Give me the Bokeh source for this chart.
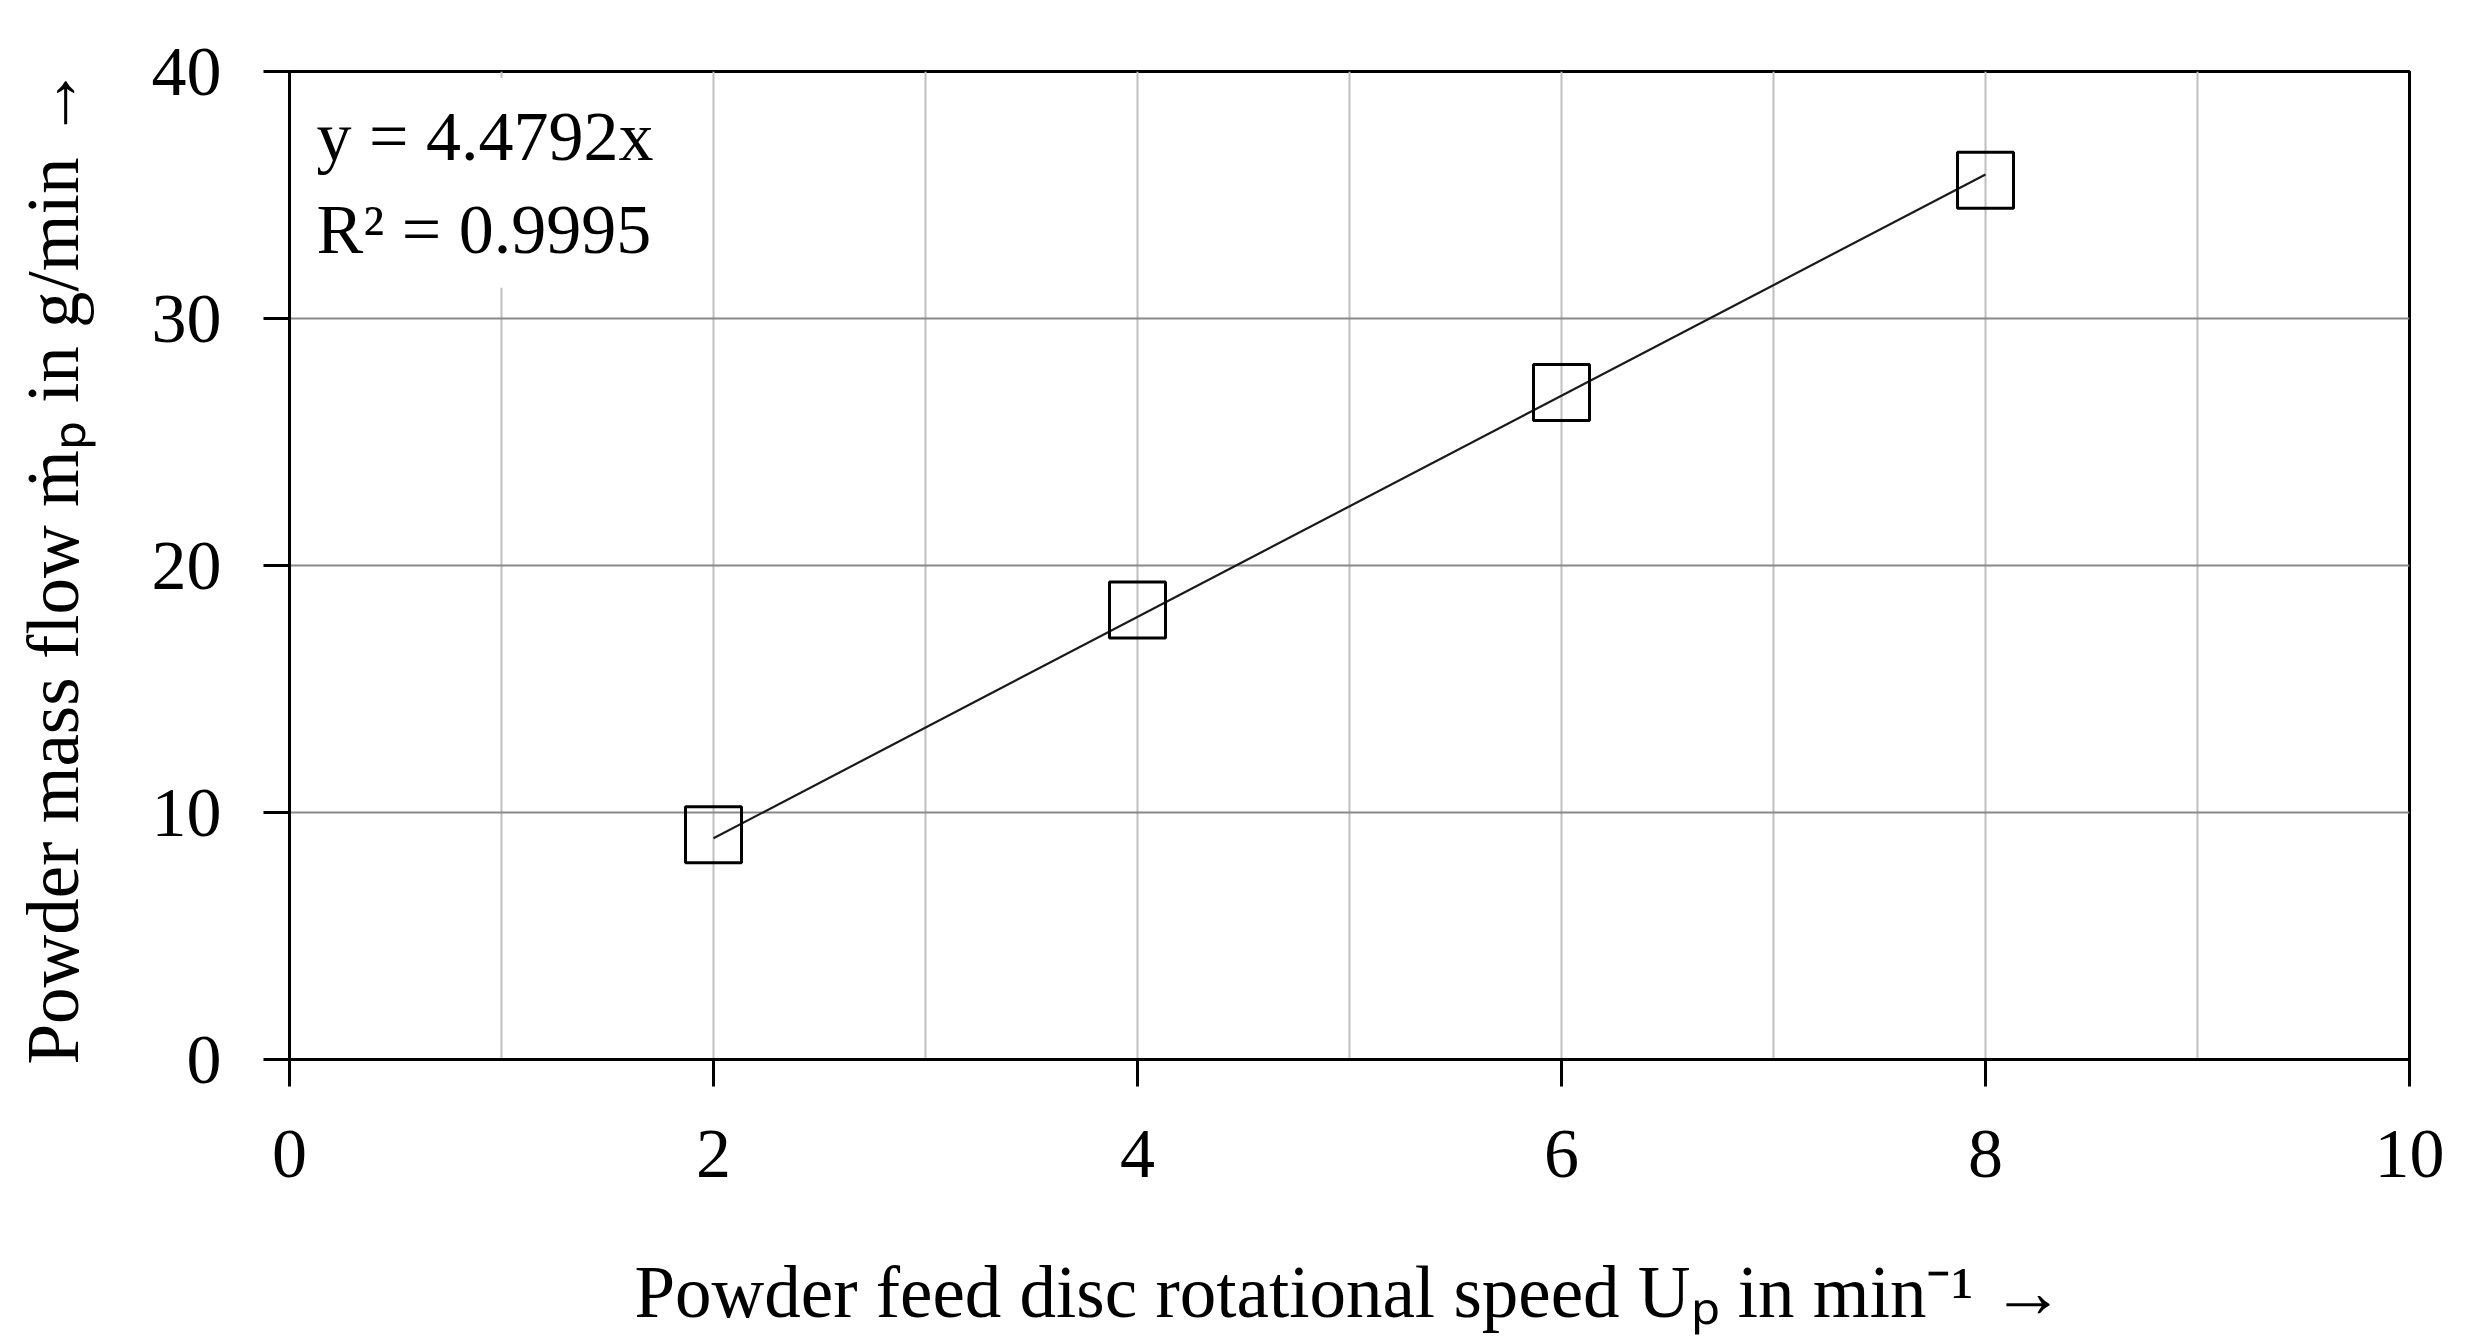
from bokeh.plotting import figure
from bokeh.models import Range1d, SingleIntervalTicker, FixedTicker, Label
from bokeh.embed import file_html
from bokeh.resources import INLINE

# ---- data ----
speed = [2, 4, 6, 8]                  # powder feed disc rotational speed, min^-1
mass_flow = [9.1, 18.2, 27.0, 35.6]   # powder mass flow, g/min
slope = 4.4792                        # trendline y = slope * x
r2_text = "0.9995"
x_ticks = [0, 2, 4, 6, 8, 10]
y_ticks = [0, 10, 20, 30, 40]

FONT = "Liberation Serif"
FS = "70px"
TFS = "73px"

W, H = 2465, 1340
p = figure(width=W, height=H, output_backend="svg", toolbar_location=None,
           x_range=Range1d(0, 10), y_range=Range1d(0, 40),
           min_border_left=289, min_border_right=W - 2409,
           min_border_top=71, min_border_bottom=H - 1059)
p.background_fill_color = "white"
p.border_fill_color = "white"
p.outline_line_color = "black"
p.outline_line_width = 3

# axes
for ax in (p.xaxis[0], p.yaxis[0]):
    ax.axis_line_color = "black"
    ax.axis_line_width = 3
    ax.major_tick_line_color = "black"
    ax.major_tick_line_width = 3
    ax.major_tick_in = 0
    ax.minor_tick_line_color = None
    ax.major_label_text_font = FONT
    ax.major_label_text_font_size = FS
    ax.major_label_text_color = "black"
    ax.axis_label_text_font = FONT
    ax.axis_label_text_font_size = TFS
    ax.axis_label_text_font_style = "normal"
    ax.axis_label_text_color = "black"

p.xaxis.ticker = FixedTicker(ticks=x_ticks)
p.yaxis.ticker = FixedTicker(ticks=y_ticks)
p.xaxis.major_tick_out = 27
p.yaxis.major_tick_out = 26
p.xaxis.major_label_standoff = 44
p.yaxis.major_label_standoff = 42
p.xaxis.axis_label = "Powder feed disc rotational speed Uₚ in min⁻¹ →"
p.yaxis.axis_label = "Powder mass flow ṁₚ in g/min →"
p.xaxis.axis_label_standoff = 72
p.yaxis.axis_label_standoff = 55

# grids
p.xgrid.ticker = SingleIntervalTicker(interval=1)
p.xgrid.grid_line_color = "#bfbfbf"
p.xgrid.grid_line_width = 2
p.ygrid.ticker = FixedTicker(ticks=y_ticks)
p.ygrid.grid_line_color = "#898989"
p.ygrid.grid_line_width = 2

# trendline (linear fit through origin, drawn over the data span)
trend_x = [min(speed), max(speed)]
trend_y = [slope * v for v in trend_x]
p.line(trend_x, trend_y, line_color="#1a1a1a", line_width=2.2)

# data points
p.scatter(speed, mass_flow, marker="square", size=56, line_color="black",
          line_width=3, fill_alpha=0)

# equation annotation
eq = Label(x=0.033, y=39.75, x_units="data", y_units="data",
           text=f"y = {slope}x\nR² = {r2_text}",
           text_font=FONT, text_font_size=FS, text_color="black",
           text_align="left", text_baseline="top", text_line_height=1.21,
           background_fill_color="white", padding=20)
p.add_layout(eq)

open("out.html", "w").write(file_html(p, INLINE))
